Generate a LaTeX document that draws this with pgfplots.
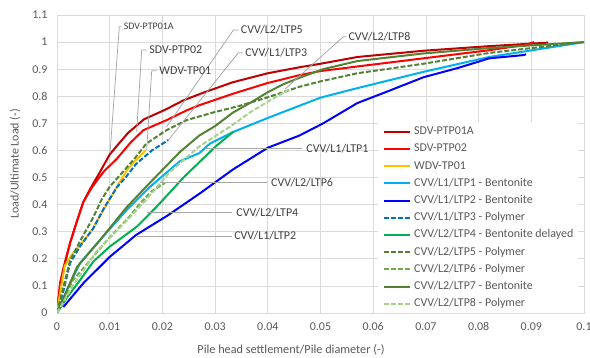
\documentclass[border=0pt]{standalone}
\usepackage{fontspec}
\setmainfont{Carlito}
\usepackage{pgfplots}
\pgfplotsset{compat=1.18}
\definecolor{cDR}{HTML}{C00000}
\definecolor{cR}{HTML}{FF0000}
\definecolor{cOr}{HTML}{FFC000}
\definecolor{cLB}{HTML}{00B0F0}
\definecolor{cB}{HTML}{0000FF}
\definecolor{cMB}{HTML}{0070C0}
\definecolor{cG}{HTML}{00B050}
\definecolor{cOl}{HTML}{548235}
\definecolor{cMG}{HTML}{70AD47}
\definecolor{cPG}{HTML}{A9D18E}
\definecolor{gridc}{HTML}{D9D9D9}
\definecolor{txt}{HTML}{595959}
\definecolor{lbl}{HTML}{404040}
\definecolor{lead}{HTML}{A6A6A6}
\begin{document}
\begin{tikzpicture}
\begin{axis}[
  at={(57bp,45bp)}, anchor=south west,
  scale only axis, width=527bp, height=298bp,
  xmin=0, xmax=0.1, ymin=0, ymax=1.1,
  xtick={0,0.01,0.02,0.03,0.04,0.05,0.06,0.07,0.08,0.09,0.1},
  xticklabels={0,0.01,0.02,0.03,0.04,0.05,0.06,0.07,0.08,0.09,0.1},
  ytick={0,0.1,0.2,0.3,0.4,0.5,0.6,0.7,0.8,0.9,1,1.1},
  yticklabels={0,0.1,0.2,0.3,0.4,0.5,0.6,0.7,0.8,0.9,1,1.1},
  major tick length=0pt,
  grid=major, grid style={line width=0.75bp, color=gridc},
  axis line style={line width=0.75bp, color=gridc},
  tick label style={font=\fontsize{12}{14}\selectfont, text=txt},
  xticklabel style={yshift=-6bp},
  yticklabel style={xshift=-6bp},
  xlabel={Pile head settlement/Pile diameter (-)},
  ylabel={Load/Ultimate Load (-)},
  every axis x label/.style={at={(axis description cs:0.444,-0.124)}, anchor=center, font=\fontsize{12.3}{14}\selectfont, text=txt},
  every axis y label/.style={at={(axis description cs:-0.0797,0.5)}, anchor=center, rotate=90, font=\fontsize{12}{14}\selectfont, text=txt},
  legend cell align=left,
  legend image code/.code={\draw[#1] (0bp,0bp) -- (26bp,0bp);},
  legend style={at={(axis description cs:0.609,0.641)}, anchor=north west,
    draw=none, fill=white, inner xsep=5bp, inner ysep=4bp,
    font=\fontsize{12}{14}\selectfont, text=txt, row sep=6bp,
    nodes={inner sep=0pt, text height=8.6bp, text depth=2.6bp},
    /tikz/every odd column/.append style={column sep=3bp}},
  ln/.style={line width=2bp},
  dsh/.style={line width=2bp, dash pattern=on 5bp off 2bp},
]
\addplot[cDR,ln] coordinates {(0,0)(0.0006,0.11)(0.0013,0.17)(0.0025,0.26)(0.0038,0.34)(0.0050,0.41)(0.0065,0.465)(0.0080,0.515)(0.0100,0.585)(0.0115,0.62)(0.0135,0.665)(0.0165,0.715)(0.0205,0.75)(0.0240,0.785)(0.0280,0.815)(0.0334,0.852)(0.0400,0.885)(0.0460,0.907)(0.0500,0.92)(0.0570,0.945)(0.0695,0.968)(0.0820,0.985)(0.0932,0.998)};
\addlegendentry{SDV-PTP01A}
\addplot[cR,ln] coordinates {(0,0)(0.0006,0.11)(0.0013,0.17)(0.0025,0.26)(0.0038,0.34)(0.0050,0.41)(0.0065,0.46)(0.0080,0.50)(0.0090,0.525)(0.0113,0.568)(0.0140,0.63)(0.0164,0.675)(0.0208,0.712)(0.0246,0.748)(0.0270,0.767)(0.0335,0.81)(0.0398,0.848)(0.0460,0.878)(0.0500,0.893)(0.0570,0.91)(0.0695,0.94)(0.0820,0.97)(0.0890,0.99)(0.0905,1.0)};
\addlegendentry{SDV-PTP02}
\addplot[cOr,ln] coordinates {(0,0)(0.0008,0.10)(0.0015,0.175)(0.0028,0.215)(0.0050,0.265)(0.0068,0.31)(0.0085,0.37)(0.0100,0.42)(0.0118,0.48)(0.0132,0.525)(0.0145,0.555)(0.0168,0.60)};
\addlegendentry{WDV-TP01}
\addplot[cLB,ln] coordinates {(0,0)(0.0020,0.09)(0.0044,0.185)(0.0082,0.27)(0.0132,0.38)(0.0176,0.465)(0.0233,0.56)(0.0270,0.59)(0.0290,0.625)(0.0334,0.668)(0.0400,0.72)(0.0460,0.765)(0.0500,0.795)(0.0570,0.83)(0.0695,0.89)(0.0820,0.945)(0.1000,1.0)};
\addlegendentry{CVV/L1/LTP1 - Bentonite}
\addplot[cB,ln] coordinates {(0.0012,0.022)(0.0050,0.11)(0.0100,0.207)(0.0150,0.288)(0.0210,0.36)(0.0270,0.44)(0.0334,0.53)(0.0400,0.61)(0.0460,0.655)(0.0505,0.70)(0.0570,0.775)(0.0630,0.82)(0.0695,0.87)(0.0760,0.904)(0.0820,0.94)(0.0885,0.952)(0.0890,0.955)};
\addlegendentry{CVV/L1/LTP2 - Bentonite}
\addplot[cMB,dsh] coordinates {(0,0)(0.0012,0.08)(0.0025,0.185)(0.0045,0.25)(0.0068,0.31)(0.0090,0.39)(0.0114,0.465)(0.0130,0.50)(0.0150,0.55)(0.0180,0.60)(0.0211,0.638)};
\addlegendentry{CVV/L1/LTP3 - Polymer}
\addplot[cG,ln] coordinates {(0,0)(0.0020,0.06)(0.0044,0.122)(0.0069,0.19)(0.0100,0.245)(0.0151,0.318)(0.0189,0.392)(0.0240,0.50)(0.0300,0.613)(0.0335,0.67)};
\addlegendentry{CVV/L2/LTP4 - Bentonite delayed}
\addplot[cOl,dsh] coordinates {(0,0)(0.0010,0.08)(0.0025,0.195)(0.0045,0.27)(0.0068,0.35)(0.0085,0.42)(0.0100,0.466)(0.0120,0.51)(0.0145,0.565)(0.0170,0.626)(0.0208,0.675)(0.0246,0.712)(0.0296,0.74)(0.0347,0.765)(0.0398,0.795)(0.0460,0.835)(0.0500,0.855)(0.0570,0.885)(0.0695,0.92)(0.0820,0.96)(0.1000,1.0)};
\addlegendentry{CVV/L2/LTP5 - Polymer}
\addplot[cMG,dsh] coordinates {(0,0)(0.0030,0.12)(0.0063,0.195)(0.0100,0.28)(0.0135,0.35)(0.0160,0.41)(0.0180,0.45)(0.0205,0.48)};
\addlegendentry{CVV/L2/LTP6 - Polymer}
\addplot[cOl,ln] coordinates {(0,0)(0.0038,0.17)(0.0082,0.27)(0.0132,0.39)(0.0176,0.48)(0.0233,0.594)(0.0270,0.655)(0.0300,0.69)(0.0334,0.74)(0.0366,0.775)(0.0400,0.815)(0.0430,0.845)(0.0460,0.868)(0.0505,0.90)(0.0570,0.93)(0.0695,0.958)(0.0820,0.978)(0.1000,1.0)};
\addlegendentry{CVV/L2/LTP7 - Bentonite}
\addplot[cPG,dsh] coordinates {(0,0)(0.0030,0.10)(0.0076,0.23)(0.0132,0.34)(0.0170,0.42)(0.0214,0.52)(0.0270,0.615)(0.0330,0.69)(0.0366,0.74)(0.0400,0.78)(0.0440,0.825)};
\addlegendentry{CVV/L2/LTP8 - Polymer}
% callouts
\begin{scope}[line width=0.75bp, color=lead]
\draw (axis cs:0.01220,1.0565)--(axis cs:0.01182,1.0565)--(axis cs:0.01006,0.590);
\draw (axis cs:0.0170,0.9705)--(axis cs:0.01607,0.9705)--(axis cs:0.01512,0.669);
\draw (axis cs:0.0189,0.894)--(axis cs:0.01797,0.894)--(axis cs:0.01702,0.6015);
\draw (axis cs:0.0344,1.0443)--(axis cs:0.03346,1.0443)--(axis cs:0.02081,0.6875);
\draw (axis cs:0.0352,0.9605)--(axis cs:0.0344,0.9605)--(axis cs:0.02113,0.6384);
\draw (axis cs:0.0548,1.0196)--(axis cs:0.05433,1.0196)--(axis cs:0.04326,0.8266);
\draw (axis cs:0.0283,0.6077)--(axis cs:0.04643,0.6077);
\draw (axis cs:0.01954,0.481)--(axis cs:0.03979,0.481);
\draw (axis cs:0.01708,0.370)--(axis cs:0.03321,0.370);
\draw (axis cs:0.01518,0.284)--(axis cs:0.03321,0.284);
\end{scope}
\begin{scope}[every node/.style={anchor=west, inner sep=0pt, text=lbl, font=\fontsize{12}{14}\selectfont}]
\node[font=\fontsize{10}{12}\selectfont] at (axis cs:0.01265,1.0565) {SDV-PTP01A};
\node at (axis cs:0.0175,0.9705) {SDV-PTP02};
\node at (axis cs:0.0194,0.894) {WDV-TP01};
\node at (axis cs:0.03486,1.0443) {CVV/L2/LTP5};
\node at (axis cs:0.0357,0.9605) {CVV/L1/LTP3};
\node at (axis cs:0.05528,1.0196) {CVV/L2/LTP8};
\node at (axis cs:0.0473,0.6077) {CVV/L1/LTP1};
\node at (axis cs:0.0406,0.481) {CVV/L2/LTP6};
\node at (axis cs:0.0340,0.370) {CVV/L2/LTP4};
\node at (axis cs:0.0336,0.284) {CVV/L1/LTP2};
\end{scope}
\end{axis}
\pgfresetboundingbox
\useasboundingbox (0,0) rectangle (590bp,358bp);
\end{tikzpicture}
\end{document}
